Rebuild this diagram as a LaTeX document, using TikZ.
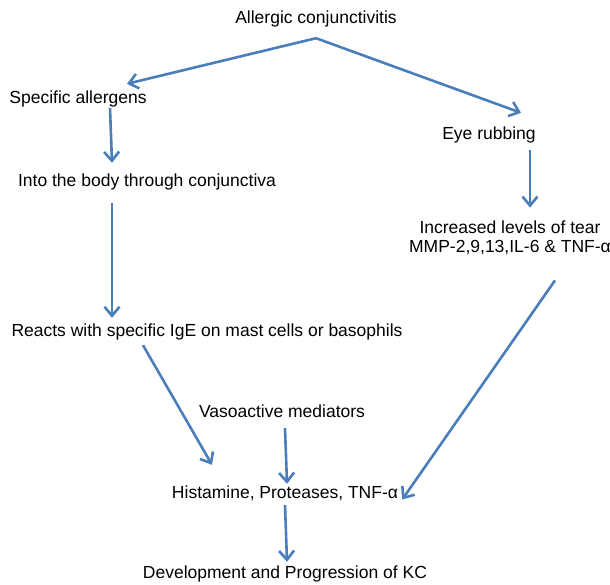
\documentclass[tikz,border=0pt]{standalone}
\usepackage{fontspec}
\setmainfont{Liberation Sans}
\usetikzlibrary{arrows.meta}
\definecolor{flowblue}{RGB}{74,126,187}

\begin{document}
\begin{tikzpicture}[
  x=1pt, y=-1pt,
  step label/.style={inner sep=0pt, text height=13pt, text depth=4pt,
    font=\fontsize{17.5}{19.5}\selectfont},
  two lines/.style={inner sep=0pt, align=center,
    font=\fontsize{17.5}{19.5}\selectfont},
  flow/.style={-{Straight Barb[length=9pt,width=15pt]}, draw=flowblue,
    line width=2.6pt},
  ]
\useasboundingbox (0,0) rectangle (610,584);

\node [step label] (title)     at (316,18.5)  {Allergic conjunctivitis};
\node [step label] (allergens) at (78,98.5)   {Specific allergens};
\node [step label] (rubbing)   at (489,134.5) {Eye rubbing};
\node [step label] (body)      at (147,181.5) {Into the body through conjunctiva};
\node [two lines]  (tear)      at (510,238)   {Increased levels of tear\\MMP-2,9,13,IL-6 \& TNF-α};
\node [step label] (reacts)    at (207,331.5) {Reacts with specific IgE on mast cells or basophils};
\node [step label] (vaso)      at (282,412.5) {Vasoactive mediators};
\node [step label] (hist)      at (285,493.5) {Histamine, Proteases, TNF-α};
\node [step label] (dev)       at (285,573.5) {Development and Progression of KC};

\coordinate (split) at ([yshift=-11pt]title.south);

\draw[flow] (split) -- ([xshift=49pt,yshift=6pt]allergens.north);
\draw[flow] (split) -- ([xshift=32pt,yshift=13pt]rubbing.north);
\draw[flow] ([xshift=32pt,yshift=-1pt]allergens.south) -- ([xshift=-35pt,yshift=10pt]body.north);
\draw[flow] ([xshift=-35pt,yshift=-13pt]body.south) -- ([xshift=-95pt,yshift=5pt]reacts.north);
\draw[flow] ([xshift=41pt,yshift=-7pt]rubbing.south) -- ([xshift=20pt,yshift=13pt]tear.north);
\draw[flow] ([xshift=-64pt,yshift=-5pt]reacts.south) -- ([xshift=-73pt,yshift=20pt]hist.north);
\draw[flow] ([xshift=3pt,yshift=-7pt]vaso.south) -- ([xshift=2pt,yshift=1pt]hist.north);
\draw[flow] ([xshift=45pt,yshift=-25pt]tear.south) -- ([xshift=4pt,yshift=-6pt]hist.east);
\draw[flow] ([yshift=-3pt]hist.south) -- ([xshift=2pt,yshift=3pt]dev.north);
\end{tikzpicture}
\end{document}
